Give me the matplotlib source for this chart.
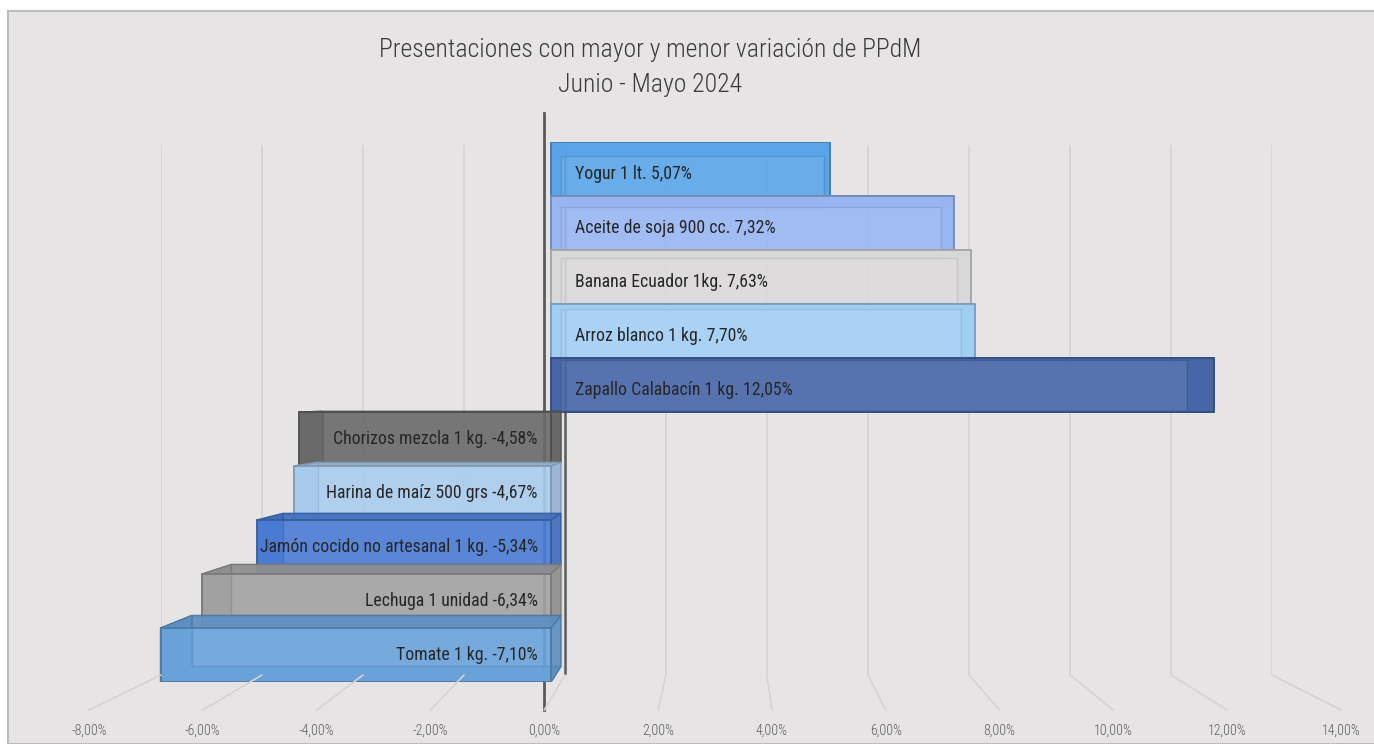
import matplotlib
matplotlib.use('Agg')
import matplotlib.pyplot as plt
import matplotlib.transforms as mtransforms
from matplotlib.colors import to_rgb
from matplotlib.patches import Rectangle, Polygon, ConnectionPatch

# Data (top to bottom as shown in the chart)
products = ['Yogur 1 lt.', 'Aceite de soja 900 cc.', 'Banana Ecuador 1kg.',
            'Arroz blanco 1 kg.', 'Zapallo Calabacín 1 kg.',
            'Chorizos mezcla 1 kg.', 'Harina de maíz 500 grs',
            'Jamón cocido no artesanal 1 kg.', 'Lechuga 1 unidad', 'Tomate 1 kg.']
variation = [5.07, 7.32, 7.63, 7.70, 12.05, -4.58, -4.67, -5.34, -6.34, -7.10]
bar_colors = ['#5aa6ea', '#9ab8f4', '#dcdbdb', '#a3d1f7', '#4767a9',
              '#6a6a6a', '#a9cdef', '#4a7cd5', '#a3a3a3', '#6aa3dc']
ticks = [-8, -6, -4, -2, 0, 2, 4, 6, 8, 10, 12, 14]
title_lines = ['Presentaciones con mayor y menor variación de PPdM', 'Junio - Mayo 2024']


def pct(v):
    return f'{v:.2f}%'.replace('.', ',')


def darker(c, f=0.78):
    return tuple(ch * f for ch in to_rgb(c))


plt.rcParams['font.family'] = ['Roboto Condensed', 'Archivo Narrow', 'DejaVu Sans']

W, H = 1374, 744
fig = plt.figure(figsize=(W / 100, H / 100), dpi=100, facecolor='white')

# chart area background with thin border
fig.patches.append(Rectangle((8 / W, 0), 1, 1 - 11 / H, transform=fig.transFigure,
                             facecolor='#e6e4e5', edgecolor='#bdbcbc', lw=1.5, zorder=-5))


def px_axes(left, top, right, bottom):
    return fig.add_axes([left / W, 1 - bottom / H, (right - left) / W, (bottom - top) / H])


# back wall: gridlines
ax_back = px_axes(161, 145, 1272, 675)
ax_back.set_xlim(ticks[0], ticks[-1])
ax_back.set_ylim(0, 1)
ax_back.axis('off')
for t in ticks:
    if t == 0:
        ax_back.axvline(t, color='#5c5c5c', lw=1.8)
    else:
        ax_back.axvline(t, color='#d5d3d4', lw=1.2)

# front plane: tick labels
ax_front = px_axes(89, 700, 1341, 710)
ax_front.set_xlim(ticks[0], ticks[-1])
ax_front.set_ylim(0, 1)
ax_front.patch.set_alpha(0)
for s in ax_front.spines.values():
    s.set_visible(False)
ax_front.set_yticks([])
ax_front.set_xticks(ticks)
ax_front.set_xticklabels([pct(t) for t in ticks], fontsize=10, color='#5f5f5f',
                         fontweight='light')
ax_front.tick_params(axis='x', length=0, pad=10)

# floor connectors from wall to front labels
for t in ticks:
    con = ConnectionPatch(xyA=(t, 0), coordsA=ax_back.transData,
                          xyB=(t, 0), coordsB=ax_front.transData,
                          color='#d5d3d4', lw=1.2)
    fig.add_artist(con)

# bars (faux 3D boxes)
ax = px_axes(111, 142, 1321, 682)
ax.set_xlim(ticks[0], ticks[-1])
ax.set_ylim(-0.5, len(products) - 0.5)
ax.axis('off')

k, xvp, yvp = 0.945, 3.27, 4.72


def back(x, y):
    return (xvp + k * (x - xvp), yvp + k * (y - yvp))


n = len(products)
for i, (name, v, c) in enumerate(zip(products, variation, bar_colors)):
    y = n - 1 - i
    z = 2 + i * 0.1
    x0, x1 = min(0, v), max(0, v)
    y0, y1 = y - 0.5, y + 0.5
    ec = darker(c, 0.75)
    sc = darker(c, 0.88)
    faces = [
        [(x0, y1), (x1, y1), back(x1, y1), back(x0, y1)],
        [(x0, y0), (x1, y0), back(x1, y0), back(x0, y0)],
        [(x0, y0), (x0, y1), back(x0, y1), back(x0, y0)],
        [(x1, y0), (x1, y1), back(x1, y1), back(x1, y0)],
    ]
    for f in faces:
        ax.add_patch(Polygon(f, closed=True, facecolor=sc, edgecolor=(*ec, 0.6),
                             lw=1, alpha=0.92, zorder=z))
    ax.barh(y, v, height=1.0, color=c, alpha=0.9, edgecolor='none', zorder=z + 0.01)
    bx0, by0 = back(x0, y0)
    bx1, by1 = back(x1, y1)
    ax.add_patch(Rectangle((bx0, by0), bx1 - bx0, by1 - by0, fill=False,
                           edgecolor=(*ec, 0.3), lw=1, zorder=z + 0.02))
    ax.add_patch(Rectangle((x0, y0), x1 - x0, y1 - y0, fill=False,
                           edgecolor=ec, lw=1.3, zorder=z + 0.03))
    label = f'{name} {pct(v)}'
    if v > 0:
        ax.text(0.44, y - 0.1, label, ha='left', va='center', fontsize=12.8,
                color='#262626', zorder=10)
    else:
        ax.text(-0.24, y, label, ha='right', va='center', fontsize=12.8,
                color='#262626', zorder=10)

# front zero axis line
blend = mtransforms.blended_transform_factory(ax_front.transData, fig.transFigure)
ax_front.plot([0, 0], [1 - 113 / H, 1 - 710 / H], transform=blend, color='#595959',
              lw=2, clip_on=False, zorder=20)

fig.text(650 / W, 1 - 50 / H, title_lines[0], ha='center', va='center',
         fontsize=18.5, color='#3c3c3c', fontweight='light')
fig.text(650 / W, 1 - 85 / H, title_lines[1], ha='center', va='center',
         fontsize=18.5, color='#3c3c3c', fontweight='light')

fig.savefig('out.png', dpi=100, facecolor=fig.get_facecolor())
